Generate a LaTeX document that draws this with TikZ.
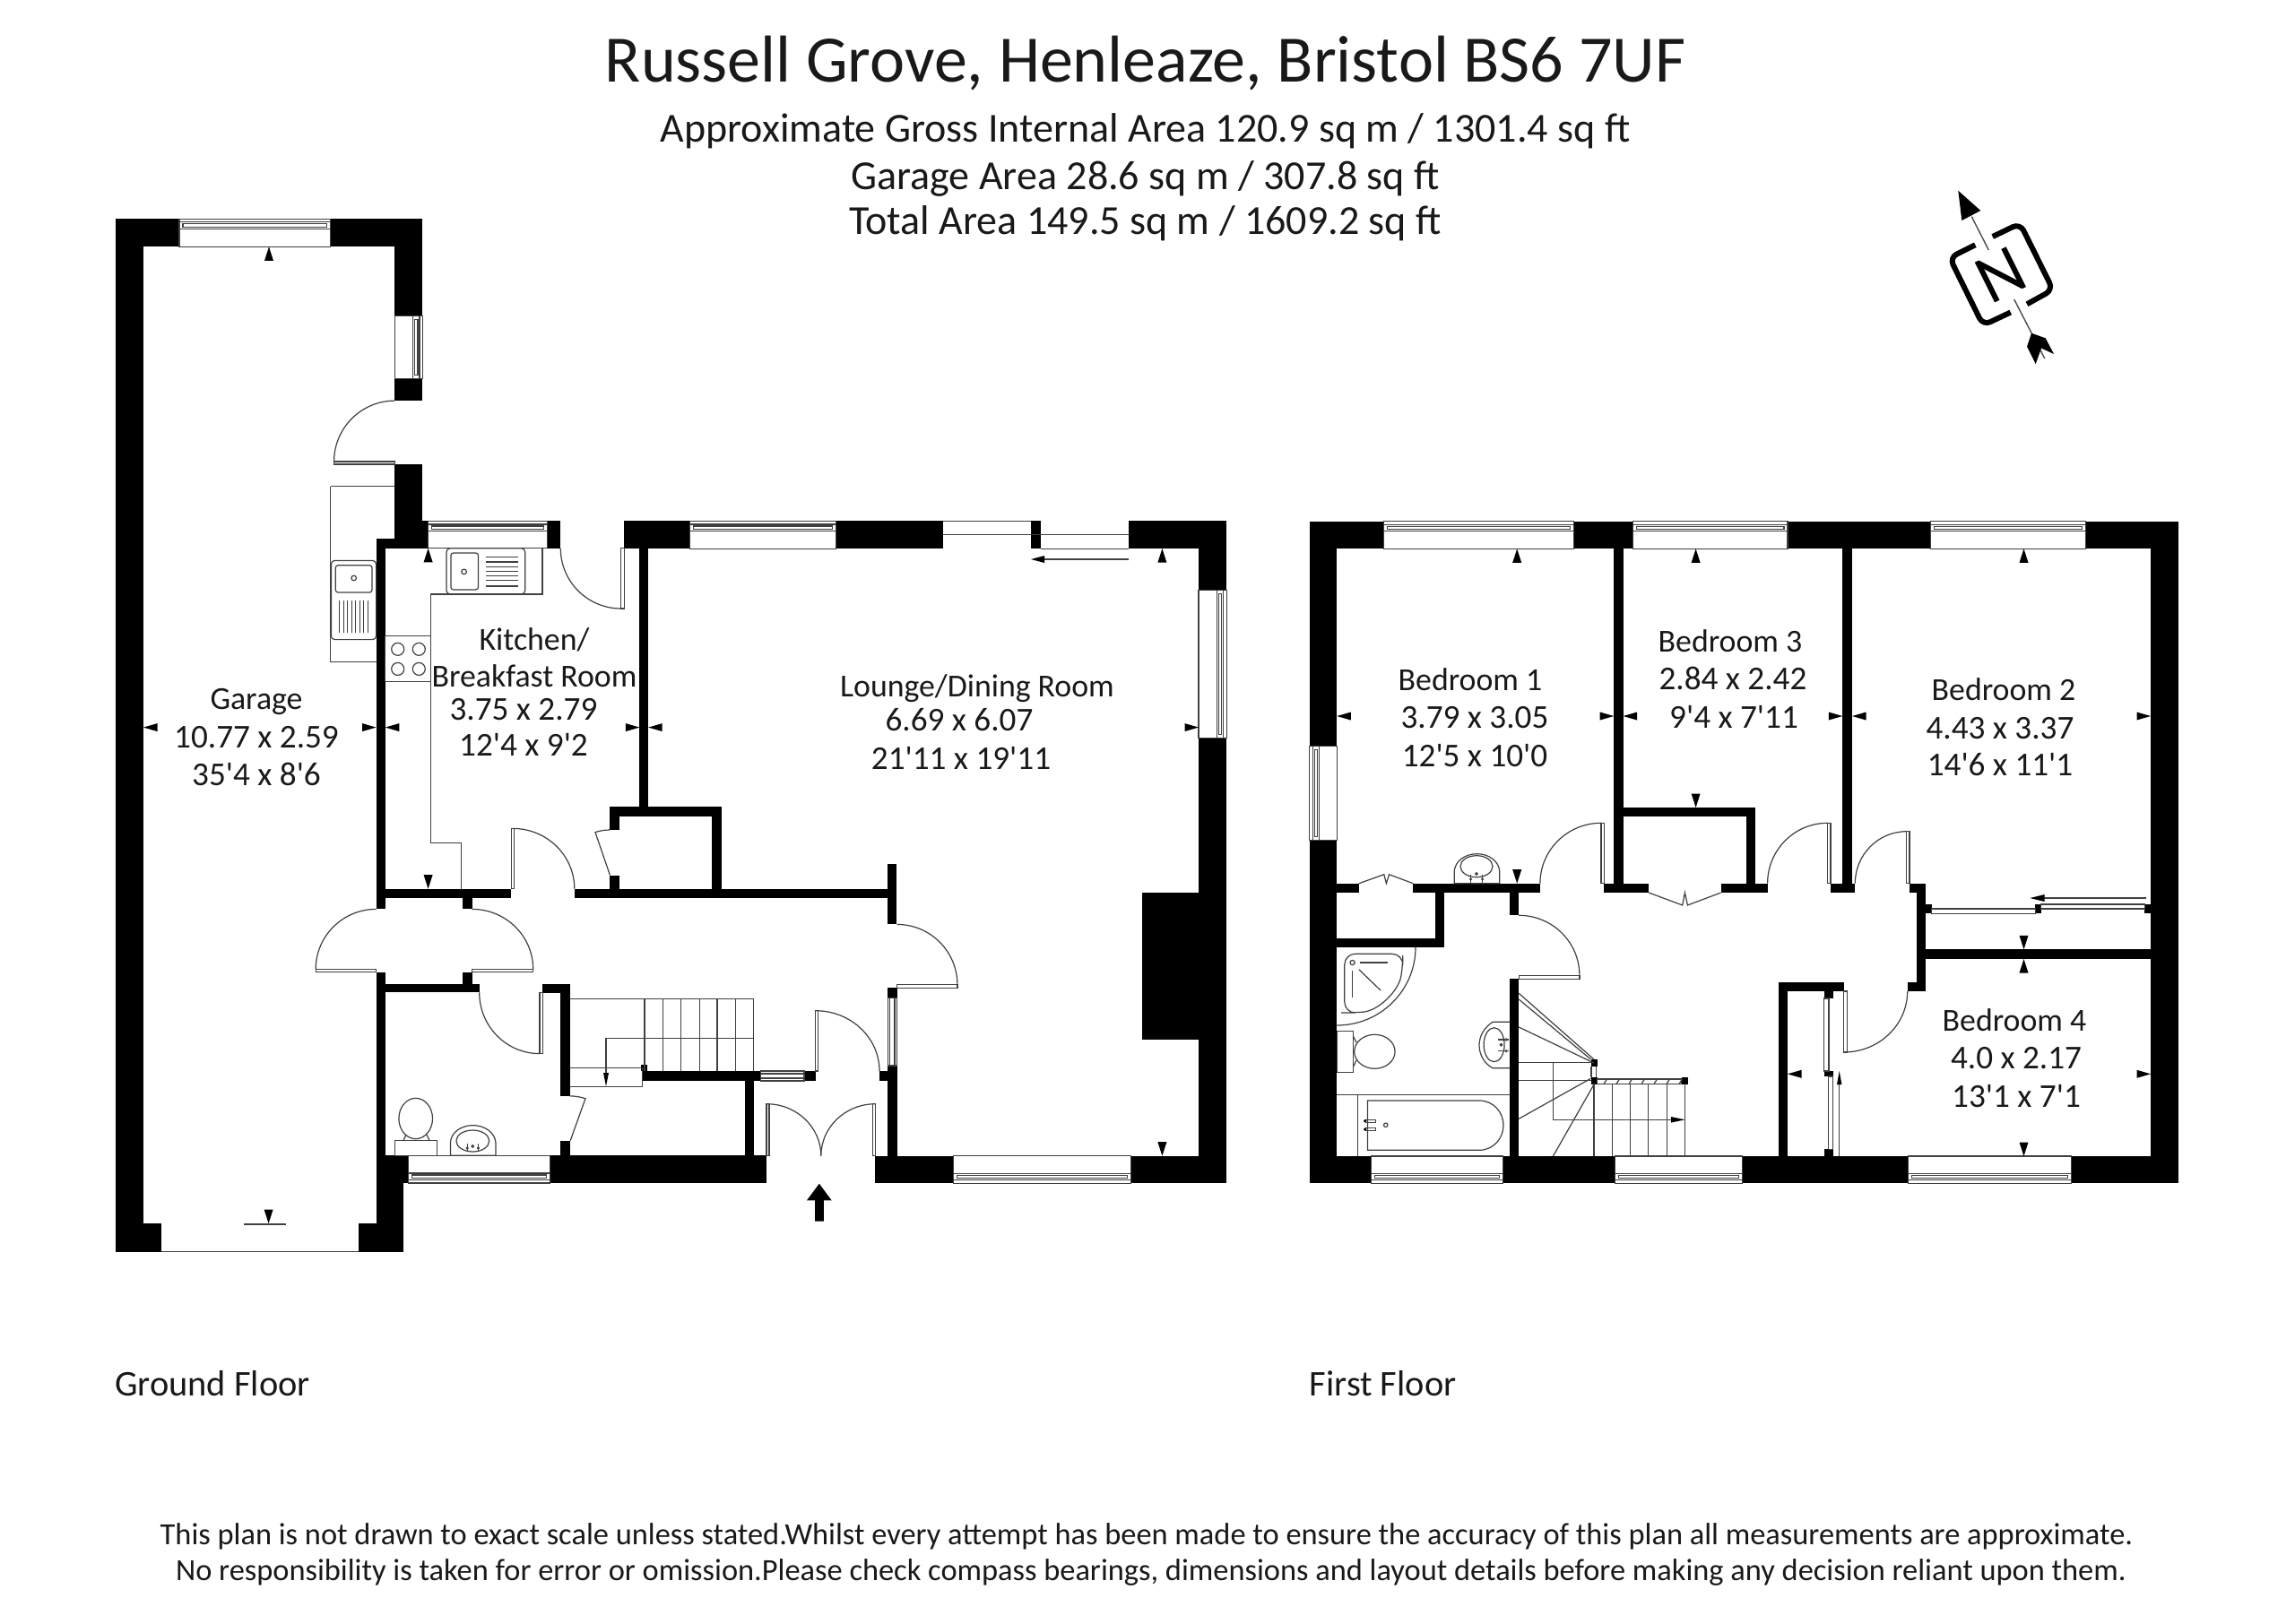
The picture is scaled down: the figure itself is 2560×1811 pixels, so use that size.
\documentclass[tikz,border=0pt]{standalone}
\usepackage{fontspec}
\newfontfamily\plan{Carlito}
\tikzset{
  thin line/.style={draw=black!75,line width=0.3pt},
  lab/.style={font=\plan\fontsize{8.95}{10}\selectfont,inner sep=0pt,anchor=base,text=black!90},
  num/.style={font=\plan\fontsize{9.3}{10}\selectfont,inner sep=0pt,anchor=base,text=black!90},
  floor/.style={font=\plan\fontsize{10.1}{11}\selectfont,inner sep=0pt,anchor=base west,text=black!90},
  head/.style={font=\plan\fontsize{11.5}{12}\selectfont,inner sep=0pt,anchor=base,text=black!90},
  foot/.style={font=\plan\fontsize{8.6}{10}\selectfont,inner sep=0pt,anchor=base,text=black!90}
}
\newcommand\wl[4]{\fill[black] (#1,#2) rectangle (#3,#4);}
\newcommand\rc[4]{\draw[thin line] (#1,#2) rectangle (#3,#4);}
\newcommand\lnn[4]{\draw[thin line] (#1,#2) -- (#3,#4);}
% quarter arc: leaves first point horizontally, reaches second vertically
\newcommand\qa[4]{\draw[thin line] (#1,#2) .. controls ({#1+0.5523*(#3-#1)},#2) and (#3,{#4-0.5523*(#4-#2)}) .. (#3,#4);}
% windows: x1 x2 y1 y2, rail on the named side
\newcommand\winT[4]{\rc{#1}{#3}{#2}{#4}\rc{#1}{{#3+3.5}}{#2}{{#3+11}}\rc{{#1+4}}{{#3+5.5}}{{#2-4}}{{#3+9}}}
\newcommand\winB[4]{\rc{#1}{#3}{#2}{#4}\rc{#1}{{#4-11}}{#2}{{#4-3.5}}\rc{{#1+4}}{{#4-9}}{{#2-4}}{{#4-5.5}}}
\newcommand\winR[4]{\rc{#1}{#3}{#2}{#4}\rc{{#2-11}}{#3}{{#2-3.5}}{#4}\rc{{#2-9}}{{#3+4}}{{#2-5.5}}{{#4-4}}}
\newcommand\winL[4]{\rc{#1}{#3}{#2}{#4}\rc{{#1+3.5}}{#3}{{#1+11}}{#4}\rc{{#1+5.5}}{{#3+4}}{{#1+9}}{{#4-4}}}
% dimension markers: tip at x,y
\newcommand\mU[2]{\fill[black] (#1,#2) -- ({#1-5},{#2+15.5}) -- ({#1+5},{#2+15.5}) -- cycle;}
\newcommand\mD[2]{\fill[black] (#1,#2) -- ({#1-5},{#2-15.5}) -- ({#1+5},{#2-15.5}) -- cycle;}
\newcommand\mL[2]{\fill[black] (#1,#2) -- ({#1+15.5},{#2-4.5}) -- ({#1+15.5},{#2+4.5}) -- cycle;}
\newcommand\mR[2]{\fill[black] (#1,#2) -- ({#1-15.5},{#2-4.5}) -- ({#1-15.5},{#2+4.5}) -- cycle;}
\begin{document}
\begin{tikzpicture}[x=0.25pt,y=-0.25pt]
\useasboundingbox (0,0) rectangle (2560,1811);
\fill[white] (0,0) rectangle (2560,1811);
% ---------- headings
\node[font=\plan\fontsize{18.5}{19}\selectfont,inner sep=0pt,anchor=base,text=black!90] (title) at (1277.5,91) {Russell Grove, Henleaze, Bristol BS6 7UF};
\node[head] (area1) at (1277.5,158) {Approximate Gross Internal Area 120.9 sq m / 1301.4 sq ft};
\node[head] (area2) at (1277.5,211) {Garage Area 28.6 sq m / 307.8 sq ft};
\node[head] (area3) at (1277.5,261) {Total Area 149.5 sq m / 1609.2 sq ft};
\node[floor] (gf) at (127.5,1557) {Ground Floor};
\node[floor] (ff) at (1460,1557) {First Floor};
\node[foot] (foot1) at (1279,1723) {This plan is not drawn to exact scale unless stated.Whilst every attempt has been made to ensure the accuracy of this plan all measurements are approximate.};
\node[foot] (foot2) at (1284,1763) {No responsibility is taken for error or omission.Please check compass bearings, dimensions and layout details before making any decision reliant upon them.};
% ---------- ground floor walls
\wl{128.6}{244.3}{200}{275.4}
\wl{128.6}{244.3}{160}{1396.6}
\wl{128.6}{1365}{179.6}{1396.6}
\wl{368.2}{244.3}{471.4}{275.4}
\wl{440.4}{244.3}{471.4}{352.1}
\wl{440.4}{422.5}{471.4}{447.1}
\wl{440.4}{517.9}{471.4}{611.8}
\wl{419.6}{601.4}{477.6}{611.8}
\wl{471.4}{581.4}{477.6}{611.8}
\wl{419.6}{601.4}{429.8}{1014.4}
\wl{429.8}{991.7}{570.2}{1002.2}
\wl{516.3}{1002}{526.5}{1014.4}
\wl{419.6}{1084.7}{429.8}{1320}
\wl{419.6}{1097.8}{534.7}{1107.4}
\wl{516.3}{1084.7}{526.5}{1097.8}
\wl{419.6}{1289.3}{455.1}{1320}
\wl{419.6}{1320}{450.2}{1396.6}
\wl{400}{1365}{450.2}{1396.6}
\wl{613.5}{1289.3}{855}{1320.3}
\wl{976}{1289.7}{1063.3}{1320.3}
\wl{1261.7}{1289.7}{1368}{1320.3}
\wl{1337}{823.2}{1368}{1320.3}
\wl{1273.5}{995.5}{1337}{1160.3}
\wl{1258.5}{581.4}{1368}{612.1}
\wl{1337}{581.4}{1368}{658.2}
\wl{1150}{581.4}{1160.7}{612.1}
\wl{932.6}{581.4}{1052.2}{612.1}
\wl{696}{581.4}{769.2}{612.1}
\wl{610.2}{581.4}{625.3}{611.8}
\wl{713.4}{612}{723.2}{910}
\wl{680.4}{900}{804.9}{910.7}
\wl{680.4}{900}{691}{926}
\wl{794.2}{900}{804.9}{991.6}
\wl{680.4}{976.5}{691}{991.7}
\wl{640.8}{991.5}{990.2}{1002.1}
\wl{990.2}{963.6}{1000.4}{1031.4}
\wl{990.2}{1101.7}{1000.5}{1113.3}
\wl{990.3}{1189}{1000.5}{1289.7}
\wl{981}{1195}{990.3}{1206}
\wl{897}{1195}{909.7}{1206}
\wl{716.3}{1195}{848.5}{1206}
\wl{715.3}{1188.3}{722.4}{1195}
\wl{830.6}{1206}{841.3}{1289.7}
\wl{605.1}{1097.5}{635.5}{1107.5}
\wl{625.3}{1097.5}{635.5}{1222.8}
\wl{625.3}{1272.5}{635.5}{1289.5}
% windows, ground floor
\winT{200}{368.2}{244.3}{275.4}
\winR{440.4}{471.4}{352.1}{422.5}
\winT{477.6}{610.2}{581.4}{611.8}
\winT{769.2}{932.6}{581.4}{612.1}
\winR{1337}{1368.3}{658.2}{823.2}
\winB{455.1}{613.5}{1289.3}{1320}
\winB{1063.3}{1261.7}{1289.7}{1320.3}
\lnn{179.6}{1396.6}{400}{1396.6}
% sliding door, lounge
\lnn{1052.2}{581.4}{1150}{581.4}
\lnn{1052.2}{596.8}{1258.5}{596.8}
\lnn{1160.7}{612.1}{1258.5}{612.1}
\lnn{1259.4}{624}{1165}{624}
\fill[black] (1150,624) -- (1165,620) -- (1165,628) -- cycle;
% doors, ground floor
\qa{440.4}{447.1}{372.6}{515}\rc{372.6}{515}{440.4}{518}
\qa{692.7}{679}{625.3}{611.8}\rc{692.7}{611.8}{696.7}{679}
\qa{572}{924.4}{640.8}{991.7}\rc{570.2}{924.4}{573.5}{991.7}
\qa{419.6}{1014.4}{352.2}{1081.4}\rc{352.2}{1081.4}{419.6}{1084.7}
\qa{526.5}{1014.4}{594.7}{1081.4}\rc{526.5}{1081.4}{594.7}{1084.7}
\qa{602}{1175.6}{534.7}{1107.4}\rc{602}{1107.4}{605.3}{1175.6}
\qa{1000.5}{1031.4}{1067.9}{1098.7}\rc{1000.5}{1098.7}{1067.9}{1102.7}
\qa{909.7}{1127.7}{981}{1195}\rc{909.7}{1127.7}{912.8}{1195}
\qa{855}{1231.7}{915.8}{1289.7}\rc{855}{1231.7}{858}{1289.7}
\qa{976.5}{1231.7}{915.8}{1289.7}\rc{973.5}{1231.7}{976.5}{1289.7}
% small doors
\draw[thin line] (680.4,926) .. controls (674,926) and (669,927) .. (664,928.6) -- (680.4,976.5);
\draw[thin line] (635.5,1222.8) .. controls (642,1223) and (648,1224) .. (653,1225.7) -- (636.2,1272.7);
% glazed panels
\rc{848.5}{1195}{897}{1206}\lnn{848.5}{1198}{897}{1198}\lnn{848.5}{1203}{897}{1203}
\rc{990.3}{1113.3}{1000.5}{1189}\lnn{992.5}{1113.3}{992.5}{1189}\lnn{998}{1113.3}{998}{1189}
% kitchen fittings
\draw[thin line] (368.6,542.5) -- (368.6,738.6) -- (419.6,738.6);
\lnn{368.6}{542.5}{440.4}{542.5}
\draw[thin line,rounded corners=1pt] (369.4,625.4) rectangle (419.6,713.6);
\draw[thin line,rounded corners=0.7pt] (374.3,630.7) rectangle (415,661);
\draw[thin line] (394.7,645) circle[radius=2.8];
\foreach \x in {378.8,383.3,387.8,392.3,396.8,401.3,405.8,410.2}{\lnn{\x}{670}{\x}{706.4}}
\draw[thin line] (604.9,611.8) -- (604.9,662.9) -- (480.4,662.9) -- (480.4,940.8) -- (514.3,940.8) -- (514.3,991.7);
\draw[thin line,rounded corners=1pt] (498,611.8) rectangle (585.7,662.9);
\draw[thin line,rounded corners=0.7pt] (502.9,617) rectangle (533.5,657.9);
\draw[thin line] (517.6,637.9) circle[radius=2.8];
\foreach \y in {621.8,626.9,632.1,637.2,642.4,647.5,653.9}{\lnn{542}{\y}{578.4}{\y}}
\rc{429.8}{709.3}{480.4}{760.4}
\foreach \x in {443.7,467.3}{\foreach \y in {724.3,746.4}{\draw[thin line] (\x,\y) circle[radius=7];}}
% WC
\draw[thin line] (463.7,1248) ellipse[x radius=18.8,y radius=22.7];
\rc{440.4}{1272.4}{487.8}{1289.3}
\lnn{450}{1272.4}{453}{1266}\lnn{479}{1272.4}{476}{1266}
\draw[thin line] (502.4,1289.3) -- (502.4,1275) .. controls (503,1263) and (515,1255.6) .. (527.7,1255.6) .. controls (540,1255.6) and (552,1263) .. (553,1275) -- (553,1289.3) -- cycle;
\draw[thin line] (527.3,1273) ellipse[x radius=18.4,y radius=12];
\fill[black!70] (521.2,1281) circle[radius=1.8] (533.5,1281) circle[radius=1.8];
\lnn{521.2}{1276}{521.2}{1285}\lnn{533.5}{1276}{533.5}{1285}
\draw[thin line] (527.3,1279) circle[radius=1.3];
% stairs, ground floor
\lnn{636.2}{1114.3}{840.3}{1114.3}
\foreach \x in {718.9,739.3,759.7,780.1,800,820.4,840.3}{\lnn{\x}{1114.3}{\x}{1195}}
\lnn{676}{1158.3}{840.3}{1158.3}
\lnn{676}{1158.3}{676}{1200}
\fill[black] (676,1212) -- (673,1197) -- (679,1197) -- cycle;
\draw[thin line] (636.2,1191.7) -- (716.3,1191.7) -- (716.3,1212.3) -- (636.2,1212.3);
% markers
\mU{300}{275.4}\mU{477.6}{611.8}\mD{477.6}{991.7}
\mL{160}{811.6}\mR{419.6}{811.6}\mL{429.8}{811.6}\mR{713.4}{811.6}
\mL{723.2}{811.6}\mR{1337}{811.6}\mU{1296.4}{612.1}\mD{1296.4}{1289.7}
\mD{299.6}{1365}\lnn{272}{1365.9}{319}{1365.9}
% entrance arrow
\fill[black] (913.8,1320.7) -- (927.6,1339.3) -- (918.9,1339.3) -- (918.9,1362.7) -- (909.2,1362.7) -- (909.2,1339.3) -- (900,1339.3) -- cycle;
% ---------- first floor walls
\wl{1460.7}{581.7}{1543.8}{612.3}
\wl{1460.7}{581.7}{1491.3}{832.3}
\wl{1460.7}{937.7}{1491.3}{1320.3}
\wl{1755.4}{581.7}{1821.2}{612.3}
\wl{1994}{581.7}{2153.3}{612.3}
\wl{2326.7}{581.7}{2430}{612.3}
\wl{2399}{581.7}{2430}{1320.3}
\wl{1800.2}{612}{1810.5}{996}
\wl{2055.3}{612}{2066}{996}
\wl{1491.3}{985.7}{1515.8}{996}
\wl{1576.3}{985.7}{1717.9}{996}
\wl{1788.7}{985.7}{1839.2}{996}
\wl{1919.6}{985.7}{1971.6}{996}
\wl{2041.9}{985.7}{2069.3}{996}
\wl{2130}{985.7}{2148}{996}
\wl{1810.5}{901}{1958.2}{911.3}
\wl{1948.3}{901}{1958.2}{986}
\wl{1601.2}{996}{1611.1}{1056.7}
\wl{1491.3}{1046.7}{1611.1}{1056.7}
\wl{1683.8}{996}{1694.2}{1021.3}
\wl{1683.8}{1091.7}{1694.2}{1290}
\wl{1460.7}{1290}{1529.2}{1320.3}
\wl{1676.2}{1290}{1801.3}{1320.3}
\wl{1943.7}{1290}{2128.7}{1320.3}
\wl{2310.3}{1290}{2430}{1320.3}
\wl{1984}{1096}{1994}{1290}
\wl{1984}{1096}{2057.3}{1106}
\wl{2034.6}{1106}{2045}{1114}
\wl{2034.6}{1195}{2045}{1201}
\wl{2034.6}{1282.3}{2045}{1290}
\wl{2127.7}{1096}{2148}{1106}
\wl{2137.6}{986}{2148}{1106}
\wl{2148}{1059.3}{2399}{1070}
\wl{2148}{1009}{2154.6}{1019.3}
\wl{2270.3}{1009}{2276.6}{1019.3}
\wl{2392.2}{1009}{2399}{1019.3}
% windows, first floor
\winT{1543.8}{1755.4}{581.7}{612.3}
\winT{1821.2}{1994}{581.7}{612.3}
\winT{2153.3}{2326.7}{581.7}{612.3}
\winL{1460.7}{1491.3}{832.3}{937.7}
\winB{1529.2}{1676.2}{1290}{1320.3}
\winB{1801.3}{1943.7}{1290}{1320.3}
\winB{2128.7}{2310.3}{1290}{1320.3}
% doors, first floor
\qa{1786}{918.3}{1717.9}{985.7}\rc{1786}{918.3}{1789.5}{985.7}
\qa{2038.5}{918.3}{1971.6}{985.7}\rc{2038.5}{918.3}{2041.9}{985.7}
\qa{2126.7}{927.7}{2069.3}{985.7}\rc{2126.7}{927.7}{2130}{985.7}
\qa{1694.2}{1021.3}{1761.9}{1088.3}\rc{1694.2}{1088.3}{1761.9}{1092.3}
\qa{2056.6}{1174}{2127.7}{1106}\rc{2056.6}{1106}{2060.3}{1174}
% folding doors
\draw[thin line] (1515.8,985.7) -- (1543.8,975.7) -- (1546.4,985.7) -- (1549.5,975.7) -- (1576.3,985.7);
\draw[thin line] (1839.2,996) -- (1876.7,1010) -- (1879.4,996) -- (1882.4,1010) -- (1919.6,996);
% sliding wardrobes
\rc{2154.6}{1014}{2270.3}{1019.3}
\rc{2276.6}{1009}{2392.2}{1014}
\lnn{2393.7}{1002}{2278}{1002}
\fill[black] (2264.4,1002) -- (2280.6,998) -- (2280.6,1006) -- cycle;
\rc{2034.6}{1114}{2040}{1195}
\rc{2039.3}{1201}{2044.7}{1282.3}
\lnn{2051.7}{1205}{2051.7}{1290}
\fill[black] (2051.7,1195) -- (2049,1210) -- (2054.4,1210) -- cycle;
% bedroom 1 basin
\draw[thin line] (1622.2,985.7) -- (1622.2,972) .. controls (1623,961) and (1634,952.7) .. (1647.5,952.7) .. controls (1661,952.7) and (1672,961) .. (1672.7,972) -- (1672.7,985.7) -- cycle;
\draw[thin line] (1647,966.7) ellipse[x radius=18,y radius=12];
\fill[black!70] (1640.6,981) circle[radius=1.8] (1653.6,981) circle[radius=1.8];
\lnn{1640.6}{976}{1640.6}{985}\lnn{1653.6}{976}{1653.6}{985}
\draw[thin line] (1647,975) circle[radius=1.3];
% bathroom
\qa{1491.3}{1144}{1579}{1057}
\draw[thin line,rounded corners=3pt] (1499.8,1064.3) -- (1564.8,1064.3) -- (1564.8,1078) .. controls (1560,1105) and (1538,1128) .. (1508,1130) -- (1499.8,1130) -- cycle;
\draw[thin line] (1508.6,1074) circle[radius=2.6];
\lnn{1517.4}{1074}{1547.6}{1074}\lnn{1508.6}{1083.3}{1508.6}{1112.7}\lnn{1515.8}{1081.7}{1540}{1105}
\rc{1491.3}{1150.3}{1509.3}{1196.7}
\draw[thin line] (1533.4,1173.3) ellipse[x radius=22.7,y radius=19];
\lnn{1509.3}{1156}{1513}{1163}\lnn{1509.3}{1190.7}{1513}{1183}
\draw[thin line] (1683.8,1140.3) -- (1665,1140.3) .. controls (1656,1146) and (1650,1156) .. (1650,1166) .. controls (1650,1177) and (1656,1187) .. (1665,1191.7) -- (1683.8,1191.7);
\draw[thin line] (1666.6,1165.7) ellipse[x radius=11.5,y radius=19];
\lnn{1671.2}{1160}{1682.7}{1160}\lnn{1671.2}{1172.7}{1682.7}{1172.7}
\fill[black!70] (1680,1160) circle[radius=1.8] (1680,1172.7) circle[radius=1.8];
\draw[thin line] (1674.5,1165.7) circle[radius=1.3];
\lnn{1491.3}{1221.3}{1683.8}{1221.3}\lnn{1514.7}{1221.3}{1514.7}{1290}
\draw[thin line] (1525.4,1228) -- (1650,1228) .. controls (1666,1228) and (1677,1241) .. (1677,1255.6) .. controls (1677,1270) and (1666,1283.3) .. (1650,1283.3) -- (1525.4,1283.3) -- cycle;
\rc{1523.5}{1249.3}{1534.2}{1252.3}\rc{1523.5}{1258.5}{1534.2}{1261.5}
\fill[black] (1522.7,1250.7) circle[radius=1.8] (1522.7,1260) circle[radius=1.8];
\draw[thin line] (1545.7,1255.3) circle[radius=2.2];
% stairs, first floor
\wl{1774.5}{1182}{1781.8}{1190}
\wl{1774.5}{1202.3}{1781.8}{1210}
\wl{1875.6}{1202.3}{1883.2}{1210}
\rc{1781.8}{1204}{1875.6}{1209.3}
\foreach \x in {1789,1803,1817,1831,1845,1859,1873}{\lnn{\x}{1209.3}{{\x+3.5}}{1204}}
\foreach \x in {1778,1798.3,1818.5,1838.8,1859.1,1879.4}{\lnn{\x}{1209.3}{\x}{1290}}
\lnn{1694.2}{1185.7}{1774.5}{1185.7}\lnn{1694.2}{1205.7}{1774.5}{1205.7}
\lnn{1778}{1186}{1694.2}{1146}
\lnn{1774.5}{1203.3}{1694.2}{1248.3}
\lnn{1778}{1210}{1732.4}{1290}
\lnn{1694.2}{1108.3}{1778}{1182}\lnn{1694.2}{1115}{1774.5}{1182}
\lnn{1775}{1190}{1775}{1202.3}\lnn{1780.5}{1190}{1780.5}{1202.3}
\draw[thin line] (1732.4,1185.7) -- (1732.4,1249.3) -- (1864,1249.3);
\fill[black] (1879.4,1249.3) -- (1864,1246) -- (1864,1252.6) -- cycle;
% markers, first floor
\mU{1692.2}{612.3}\mU{1891.6}{612.3}\mU{2257.5}{612.3}
\mL{1491.3}{799}\mR{1800.2}{799}\mL{1810.5}{799}\mR{2055.3}{799}\mL{2066}{799}\mR{2399}{799}
\mD{1891.6}{901}\mD{1692.2}{985.7}\mD{2257.5}{1059.3}\mU{2257.5}{1070}\mD{2257.5}{1290}
\mL{1994}{1198.3}\mR{2399}{1198.3}
% ---------- room labels
\node[lab] (g1) at (286,791) {Garage};
\node[num] (g2) at (286,834) {10.77 x 2.59};
\node[num] (g3) at (286,876) {35'4 x 8'6};
\node[lab] (k1) at (596,725) {Kitchen/};
\node[lab] (k2) at (596,766) {Breakfast Room};
\node[num] (k3) at (584,803) {3.75 x 2.79};
\node[num] (k4) at (584,843) {12'4 x 9'2};
\node[lab] (l1) at (1090,777) {Lounge/Dining Room};
\node[num] (l2) at (1070,815) {6.69 x 6.07};
\node[num] (l3) at (1072,858) {21'11 x 19'11};
\node[lab] (b11) at (1640,770) {Bedroom 1};
\node[num] (b12) at (1645,812) {3.79 x 3.05};
\node[num] (b13) at (1645,855) {12'5 x 10'0};
\node[lab] (b31) at (1930,727) {Bedroom 3};
\node[num] (b32) at (1933,769) {2.84 x 2.42};
\node[num] (b33) at (1934,812) {9'4 x 7'11};
\node[lab] (b21) at (2235,781) {Bedroom 2};
\node[num] (b22) at (2231,824) {4.43 x 3.37};
\node[num] (b23) at (2231,865) {14'6 x 11'1};
\node[lab] (b41) at (2247,1150) {Bedroom 4};
\node[num] (b42) at (2249,1192) {4.0 x 2.17};
\node[num] (b43) at (2249,1235) {13'1 x 7'1};
% ---------- compass
\draw[black!70,line width=0.35pt] (2199.3,241.7) -- (2218.3,279);
\draw[black!70,line width=0.35pt] (2246.7,334) -- (2280.7,400);
\fill[black] (2184.3,212.7) -- (2209.3,235) -- (2188.3,246) -- cycle;
\fill[black] (2266,371.7) -- (2281.7,377.3) -- (2291,395) -- (2277,388.5) -- (2270.7,406) -- (2261,386.7) -- cycle;
\draw[black,line width=1.5pt,rounded corners=2.2pt] (2203.3,273.3) -- (2174.7,287.5) -- (2212,363) -- (2242.7,348.5);
\draw[black,line width=1.5pt,rounded corners=2.2pt] (2222.7,264) -- (2253.3,249.3) -- (2290,323.3) -- (2261,339.3);
\node[font=\plan\fontsize{19.5}{20}\selectfont,inner sep=0pt,rotate=26.5] (north) at (2232,307) {N};
\end{tikzpicture}
\end{document}
